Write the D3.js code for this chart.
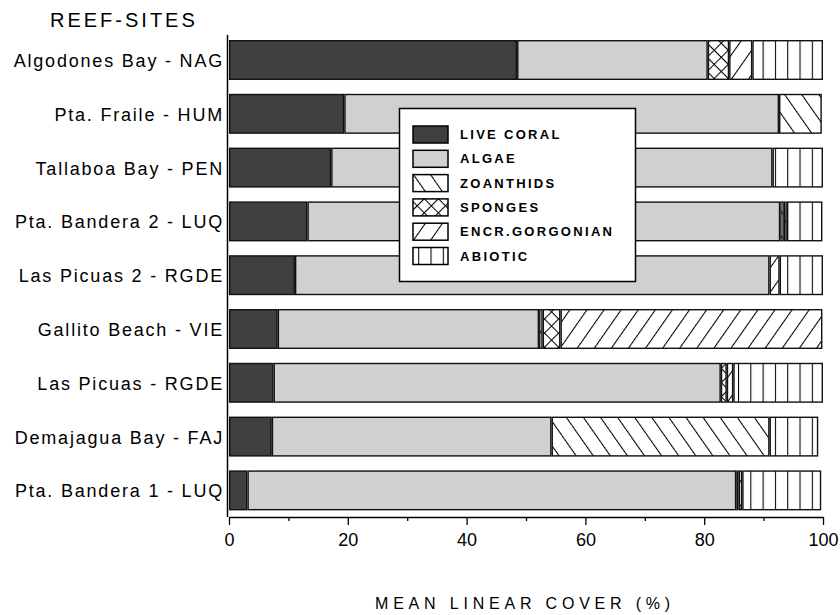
<!DOCTYPE html>
<html>
<head>
<meta charset="utf-8">
<script src="https://cdn.jsdelivr.net/npm/d3@7"></script>
<style>
  html, body { margin: 0; padding: 0; background: #fff; }
  svg { display: block; }
  text { font-family: "Liberation Sans", Arial, sans-serif; fill: #000; }
</style>
</head>
<body>
<svg id="chart" width="840" height="615"></svg>
<script>
const sites = [
  "Algodones Bay - NAG", "Pta. Fraile - HUM", "Tallaboa Bay - PEN",
  "Pta. Bandera 2 - LUQ", "Las Picuas 2 - RGDE", "Gallito Beach - VIE",
  "Las Picuas - RGDE", "Demajagua Bay - FAJ", "Pta. Bandera 1 - LUQ"
];
const liveCoral = [48.5, 19.4, 17.2, 13.2, 11.1, 8.2, 7.5, 7.2, 3.1];
const algae     = [32.1, 73.2, 74.3, 79.6, 79.9, 44.0, 75.3, 47.1, 82.3];
const zoanthids = [0, 7.2, 0, 0.6, 0, 0.6, 0, 36.7, 0.4];
const sponges   = [3.6, 0, 0, 0, 0, 3.0, 1.0, 0, 0];
const gorgonian = [3.9, 0, 0, 0.5, 1.7, 44.1, 1.1, 0, 0.6];
const abiotic   = [11.9, 0, 8.5, 6.0, 7.3, 0, 15.1, 8.2, 13.3];
const categoryKeys = ["coral", "algae", "zoan", "sponge", "gorg", "abiotic"];
const legendLabels = ["LIVE CORAL", "ALGAE", "ZOANTHIDS", "SPONGES", "ENCR.GORGONIAN", "ABIOTIC"];
const xTicks = [0, 20, 40, 60, 80, 100];
const xMinorTicks = [10, 30, 50, 70, 90];

const table = sites.map((s, i) => ({
  site: s, coral: liveCoral[i], algae: algae[i], zoan: zoanthids[i],
  sponge: sponges[i], gorg: gorgonian[i], abiotic: abiotic[i]
}));

const svg = d3.select("#chart");
const x = d3.scaleLinear().domain([0, 100]).range([229, 823]);
const y = d3.scaleBand().domain(sites).range([33.4, 517]).paddingInner(0.2565).paddingOuter(0.123);

// patterns
const defs = svg.append("defs");
function linePattern(id, w, angle, extra) {
  const p = defs.append("pattern").attr("id", id).attr("patternUnits", "userSpaceOnUse")
    .attr("width", w).attr("height", w).attr("patternTransform", `rotate(${angle})`);
  p.append("rect").attr("width", w).attr("height", w).attr("fill", "#fff");
  p.append("line").attr("x1", 0.5).attr("y1", 0).attr("x2", 0.5).attr("y2", w)
    .attr("stroke", "#000").attr("stroke-width", 1.1);
  if (extra) p.append("line").attr("x1", 0).attr("y1", 0.5).attr("x2", w).attr("y2", 0.5)
    .attr("stroke", "#000").attr("stroke-width", 1.1);
}
linePattern("p-zoan", 14, -35, false);
linePattern("p-gorg", 14, 35, false);
linePattern("p-sponge", 10, 45, true);
linePattern("p-abiotic", 12.3, 0, false);

const fills = {
  coral: "#404040", algae: "#d0d0d0", zoan: "url(#p-zoan)",
  sponge: "url(#p-sponge)", gorg: "url(#p-gorg)", abiotic: "url(#p-abiotic)"
};

const stack = d3.stack().keys(categoryKeys)(table);

const g = svg.append("g");
stack.forEach(layer => {
  g.selectAll(null).data(layer.filter(d => d[1] - d[0] > 0)).join("rect")
    .attr("x", d => x(d[0]) + 0.7)
    .attr("y", d => y(d.data.site) + 0.7)
    .attr("width", d => Math.max(0.8, x(d[1]) - x(d[0]) - 1.4))
    .attr("height", y.bandwidth() - 1.4)
    .attr("fill", fills[layer.key])
    .attr("stroke", "#111")
    .attr("stroke-width", 1.4);
});

// y axis line and labels
svg.append("line").attr("x1", 227.5).attr("x2", 227.5).attr("y1", 35).attr("y2", 517)
  .attr("stroke", "#000").attr("stroke-width", 1.5);
svg.append("g").selectAll("text").data(sites).join("text")
  .attr("x", 224).attr("y", d => y(d) + y.bandwidth() / 2 + 7)
  .attr("text-anchor", "end")
  .style("font-size", "18px").style("letter-spacing", "1.8px")
  .text(d => d);

// x axis
const xAxis = svg.append("g").attr("transform", "translate(0,517)")
  .call(d3.axisBottom(x).tickValues(xTicks).tickSize(8).tickSizeOuter(0).tickFormat(d3.format("d")));
xAxis.select(".domain").attr("stroke", "#000").attr("stroke-width", 1.5);
xAxis.selectAll(".tick line").attr("stroke", "#000").attr("stroke-width", 1.3);
xAxis.selectAll(".tick text").attr("y", 16).attr("dy", "0.71em")
  .style("font-size", "18px").style("font-family", "'Liberation Sans', Arial, sans-serif").attr("fill", "#000");
svg.append("g").attr("transform", "translate(0,517)")
  .call(d3.axisBottom(x).tickValues(xMinorTicks).tickSize(4).tickFormat(""))
  .call(s => s.select(".domain").remove())
  .selectAll(".tick line").attr("stroke", "#000").attr("stroke-width", 1.3);

// titles
svg.append("text").attr("x", 50).attr("y", 27)
  .style("font-size", "20px").style("letter-spacing", "3px").text("REEF-SITES");
svg.append("text").attr("x", 525).attr("y", 609).attr("text-anchor", "middle")
  .style("font-size", "16px").style("letter-spacing", "4.8px").text("MEAN LINEAR COVER (%)");

// legend
const leg = svg.append("g");
leg.append("rect").attr("x", 399.5).attr("y", 108.5).attr("width", 236).attr("height", 173)
  .attr("fill", "#fff").attr("stroke", "#000").attr("stroke-width", 1.5);
const legY = d3.scalePoint().domain(categoryKeys).range([126, 247.5]);
categoryKeys.forEach((k, i) => {
  leg.append("rect").attr("x", 413).attr("y", legY(k)).attr("width", 35).attr("height", 17)
    .attr("fill", fills[k]).attr("stroke", "#000").attr("stroke-width", 1.5);
  leg.append("text").attr("x", 460).attr("y", legY(k) + 13)
    .style("font-size", "13px").style("font-weight", "bold").style("letter-spacing", "2.3px")
    .text(legendLabels[i]);
});
</script>
</body>
</html>
